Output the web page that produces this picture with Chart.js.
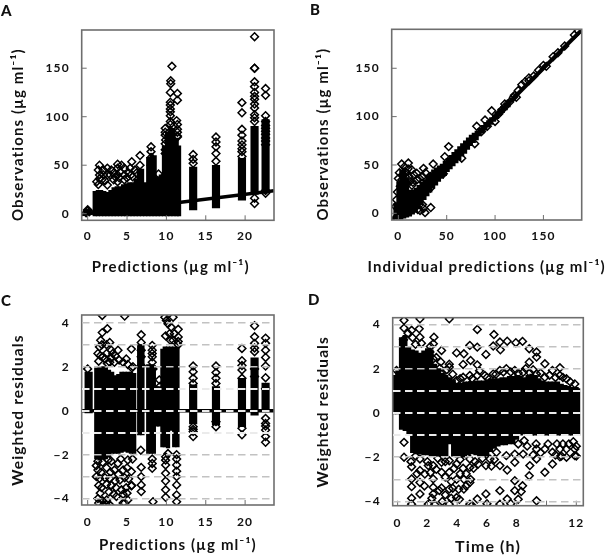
<!DOCTYPE html>
<html>
<head>
<meta charset="utf-8">
<script src="https://cdn.jsdelivr.net/npm/chart.js@4/dist/chart.umd.min.js"></script>
<style>
html,body{margin:0;padding:0;background:#fff;width:609px;height:557px;overflow:hidden}
canvas{position:absolute;filter:blur(.45px)}
.tag{position:absolute;font:900 15px Lato,sans-serif;color:#111;line-height:16px;letter-spacing:.5px}
</style>
</head>
<body>
<canvas id="pa"></canvas><canvas id="pb"></canvas><canvas id="pc"></canvas><canvas id="pd"></canvas>
<div class="tag" style="left:1px;top:2px">A</div>
<div class="tag" style="left:310px;top:1px">B</div>
<div class="tag" style="left:1px;top:292px">C</div>
<div class="tag" style="left:308px;top:291px">D</div>
<script>
// ---------- tick values ----------
const ticksPredX = [0,5,10,15,20];
const ticksObsY = [0,50,100,150];
const ticksIndX = [0,50,100,150];
const ticksTimeX = [0,2,4,6,8,10,12];
const labelsTimeX = [0,2,4,6,8,12];
const gridLevels = [-4,-3,-2,-1,0,1,2,3,4];
const labelsWresY = [-4,-2,0,2,4];

// ---------- panel A ----------
const denseAx  = [0.9,1.3,1.7,2.1,2.5,2.9,3.3,3.7,4.1,4.5,4.9,5.3,5.7,6.1,6.5,6.9,7.3,7.7,8.1,8.5,8.9,9.3,9.7,10.1,10.5,10.9,11.3,11.6];
const denseAhi = [23,24,24,23,22,24,27,28,28,30,31,32,32,36,46,46,32,58,62,60,38,40,70,84,90,88,78,70];
const denseAlo = [-2.4,-2.4,-2.4,-2.4,-2.4,-2.4,-2.4,-2.4,-2.4,-2.4,-2.4,-2.4,-2.4,-2.4,-2.4,-2.4,-2.4,-2.4,-2.4,-2.4,-2.4,-2.4,-2.4,-2.4,-2.4,-2.4,-2.4,-2.4];
const colAx  = [0,13.4,16.3,19.6,21.2,22.6];
const colAhi = [4.5,48,50,57,90,97];
const colAlo = [0.5,4,6,14,20,22];
const ptsAx = [-0.2,0,0.2,0,10.7,10.55,10.55,10.5,11.4,11.4,10.5,10.5,11.3,11.4,10.5,9.85,9.85,9.9,9.85,11.4,8.05,8.05,6.65,6.65,5.6,5.5,3.8,3.8,3.8,3.8,1.5,1.35,1.15,1.35,2.5,2.5,2.5,4.65,4.65,4.65,2,1.8,3.3,3.3,5.7,5.2,2.85,4.1,13.4,13.4,13.4,16.3,16.3,16.3,16.3,16.3,19.6,19.6,19.6,19.6,19.6,19.6,19.6,21.2,21.2,21.2,21.2,21.2,21.2,21.2,21.2,21.2,21.2,21.2,22.6,22.6,22.6,22.6,22.6,22.6,22.6,22.6,22.6,
  10.5,10.5,10.5,10.5,11.4,11.4,11.4,9.85,9.85,9.85,21.2,21.2,21.2,21.2,22.6,22.6,22.6,22.6,19.6,19.6,1.5,1.5,2,2.2,3,3.5,4,4.3,5,5.4,6,6.2,8.05,8.05,9];
const ptsAy = [1,3,2,4,152,137,134,125,124,117,115,101,96,87,112,88,81,76,66,79,69,50,60,50,53.6,40,51,47,40,33,50,45,33,30,47,40,29.5,47,40,35,40,35,35,42,38,42,40,43,61,56,52,79,74,69,62,54,114.5,104,87,81,71,64,59,182.5,150,136,131,121,109,102,95,10.5,16,150,129,122,101,91,85,78,71,21,24,
  105,108,95,92,92,84,80,84,72,62,125,118,113,99,95,88,82,75,75,67,40,36,45,34,45,38,37,50,37,47,45,42,64,58,41];
const lineAx = [-0.76,23.67];
const lineAy = [-0.76,23.67];

// ---------- panel B ----------
const denseBx  = [-3,0,3,6,9,12,15,18,21,24,27,30,33,36,39,42,45,48,51,54,57,60,63,66,69,72,75,78,81,84,87,90,93,96,99,102,105,108,111,114];
const denseBhi = [10,32,45,47,36,24,24,26,29,32,35,39,41,45,47,49,51,54,57,60,63,66,69,72,75,78,81,83,85,88,91,94,96,99,102,105,108,111,114,117];
const denseBlo = [-6,-6,-6,-5,-4,-3,-1,1,5,9,14,18,22,26,29,33,36,39,43,46,49,52,55,59,62,66,70,73,76,80,83,86,89,92,95,98,101,104,107,110];
const ptsBx = [3.4,10.3,19,26,36,52,33,33.5,26,22.4,27.6,96.5,89.6,81,127.6,135,150,182,186,46.5,13.8,33,25,19,14,7,3.4,0,79,48,65.5,107,110,119,124,115,86,100,131,145,153,172,92,104,122,
  1,5,8,11,12,15,2,-1,-2,-3,10,6,16,22,28,15,18,20,25,160,165,110,120,135,140];
const ptsBy = [51,52,41.4,46.5,51,69,26,6,5,2.8,0.7,106,96.5,90,133,140,153,184.5,188.6,41,45,38,38,34.5,29,38,34.5,36,72,58.6,57,107,110,120,127,115,84.5,95,136,148,152,173,90,103,120,
  42,40,42,38,33,32,28,22,14,7,46,48,40,36,42,20,18,4,9,162,166,113,122,137,142];
const lineBx = [-6.9,189.6];
const lineBy = [-6.9,189.6];

// ---------- panel C ----------
const denseCx  = [1.1,1.5,1.9,2.3,2.7,3.1,3.5,3.9,4.3,4.7,5.1,5.5,5.9,6.55,6.95,7.7,8.05,8.4,8.75,9.1,9.5,9.8,10.2,10.6,11,11.4];
const denseChi = [1.95,2,2,1.95,1.85,1.75,1.6,1.65,1.75,1.75,1.75,1.75,1.7,3,3,2.1,2.1,2.05,1.1,1.1,2.8,2.9,2.9,2.9,2.9,2.9];
const denseClo = [-2.2,-2.25,-2.2,-2.2,-2.1,-1.95,-1.95,-1.95,-1.9,-1.85,-1.9,-1.95,-1.95,-1.1,-1.1,-1.95,-1.95,-1.95,-0.7,-0.7,-1.65,-1.65,-1.7,-0.9,-1.65,-1.65];
const colCx  = [0.12,13.4,16.3,19.6,21.2,22.6];
const colChi = [1.75,1.17,1.1,1.47,2.4,1.25];
const colClo = [-0.1,-0.6,-0.65,-0.73,-0.2,-0.05];
const ptsCx = [2.5,1.85,1.65,1.85,4.7,6.8,6.8,8.2,8.2,8.2,9.8,10.85,10.6,9.9,11.5,11.5,10.4,10.85,11.5,5.55,3.85,3,1.4,2.5,3.4,4.5,5.1,5.75,0,1.95,1.3,2.4,3.2,6.8,6.8,8.3,9.1,9.15,13.4,13.4,13.4,13.4,13.4,13.4,13.4,16.3,16.3,16.3,16.3,16.3,19.6,19.6,19.6,19.6,19.6,19.6,21.2,21.2,21.2,21.2,21.2,22.6,22.6,22.6,22.6,22.6,22.6,22.6,22.6,22.6,22.6,1.3,2.6,3.85,5.1,1.3,2.4,3.4,4.5,5.55,1.5,2.8,4.1,1.75,3,4.3,5.55,1.3,2.4,1.95,3.65,5.1,2.8,4.5,6.8,6.8,6.8,6.8,6.75,8.2,8.2,8.3,9.9,9.9,9.9,9.9,9.9,11.3,11.3,11.3,11.3,11.3,11.3,10.2,
  1.1,1.9,3,4.2,5.7,1.7,2.9,3.9,5,1.1,2.2,3.5,4.7,5.2,1.4,2.4,3.6,4.9,5.6,1.6,2.7,3.3,4.5,5,1.4,1.9,2.3,4.7,1.5,1.8,2.4,2.8,1.6,2.2,3,3.5,2.8,4,4.9,5.6,6.8,8.2,8.2,10.2,10,11,10.5,11.5,11.3,11.3,9.9,9.9,8.2,22.6,22.6,22.6,21.2,21.2,19.6,16.3,13.4];
const ptsCy = [3.73,3.55,3.2,4.33,4.3,3.45,3.1,2.97,2.6,2.2,4.25,4.25,3.8,3.4,3.7,3.35,3.5,3.2,3,2.8,2.75,2.75,2.25,2.15,2.2,2.2,2.1,2,1.9,2.45,2.6,2.6,2.6,2.45,2.05,1.9,1.4,1.1,2.03,1.77,1.47,1.24,-0.73,-0.95,-1.18,2.03,1.73,1.47,1.24,-0.73,2.83,2.27,1.85,1.47,-0.8,-1.1,3.86,3.36,3.06,2.68,1.55,3.3,3.06,2.42,2.03,1.5,1,-0.58,-0.88,-1.18,-1.44,-2.3,-2.24,-2.4,-2.24,-2.7,-2.6,-2.7,-2.7,-2.77,-3.08,-3.08,-3.15,-3.5,-3.4,-3.6,-3.42,-4,-4.06,-4.3,-3.9,-4.06,-4.28,-4.2,-2.58,-3,-3.38,-3.68,-1.8,-2.4,-2.62,-4.14,-2.1,-2.47,-2.85,-3.6,-3.94,-2,-2.47,-3,-3.38,-3.83,-4.14,-1.95,
  -2.5,-2.35,-2.3,-2.2,-2.2,-2.8,-2.8,-2.9,-2.6,-3,-3.05,-3.2,-3.05,-3.1,-3.4,-3.35,-3.5,-3.5,-3.4,-3.75,-3.7,-3.8,-3.8,-3.75,-4.2,-4.1,-4.25,-4.2,2.9,3,3,3.1,2.5,2.35,2.4,2.5,2.2,2.3,2.35,1.95,2.75,2.45,2.75,3.95,4.1,3.5,3.2,3.15,-2.2,-2.75,-2.25,-3.2,-2.2,-0.35,-0.7,2.75,2.85,1.9,2.05,-0.5,-0.85];
const lineCx = [-0.76,23.67];
const lineCy = [0,0];

// ---------- panel D ----------
const denseDx  = [-0.25,0,0.25,0.5,0.75,1,1.25,1.5,1.75,2,2.25,2.5,2.75,3,3.25,3.5,3.75,4,4.25,4.5,4.75,5,5.25,5.5,5.75,6,6.25,6.5,6.75,7,7.25,7.5,7.75,8,8.25,8.5,8.75,9,9.25,9.5,9.75,10,10.25,10.5,10.75,11,11.25,11.5,11.75,12,12.1];
const denseDhi = [1.7,1.9,3.4,3.5,3,2.85,2.8,2.7,2.8,2.9,2.85,2.2,2,1.8,1.7,1.6,1.5,1.35,1.35,1.4,1.4,1.4,1.45,1.45,1.45,1.5,1.55,1.55,1.55,1.6,1.6,1.65,1.65,1.7,1.65,1.6,1.7,1.75,1.7,1.55,1.45,1.4,1.4,1.4,1.4,1.3,1.25,1.2,1.15,1.15,1.1];
const denseDlo = [-0.05,-0.05,-0.75,-0.8,-1,-1.8,-1.85,-1.85,-1.9,-1.9,-1.95,-1.95,-1.95,-1.95,-1.95,-1.4,-1.95,-2,-2,-2,-1.9,-1.85,-1.9,-1.95,-1.95,-1.95,-1.75,-1.6,-1.5,-1.45,-1.45,-1.4,-1.4,-1.2,-1,-0.95,-1,-1,-1,-1,-1,-1,-1,-1,-1,-1,-1,-1,-1,-1,-1];
const ptsDx = [5.35,6.47,6.87,7.36,7.94,8.39,4.85,5.35,6.42,6.9,8.84,9.33,3.96,4.45,5.93,9.33,8.84,4.9,4.4,5.35,3.47,3.47,2.95,2.44,1.5,3.47,0.43,0.43,1.45,1.5,0.94,2.4,2.4,2.17,9.89,10.4,10.9,11.34,10.9,8.43,7.87,7.3,6.87,6.42,5.86,5.35,4.85,4.4,2.84,3.96,4.85,2.95,8.88,9.33,9.89,-0.07,11.9,0.43,0.43,0.94,1.5,2.06,0.94,1.5,1.5,0.94,1.5,0.94,0.94,2.39,2.39,2.39,2.39,2.95,2.95,3.47,3.47,3.47,3.96,3.96,4.45,4.45,4.85,4.85,4.85,5.35,5.93,5.93,7.36,6.87,7.87,6.87,7.87,7.87,8.39,8.88,9.89,10.4,10.9,11.34,9.33,8.43,8.84,7.36,6.87,9.33,9.33,9.89,10.4,10.9,11.34,11.9,11.9,7.87,7.3,6.2,6.64,5.41,4.85,3.96,2.95,3.47,1.83,2.06,
  1.2,2,2.7,3.2,4.2,5.2,5.7,6.5,6.3,0.9,1.3,2.2,3.8,4.4,5.1,2.6,3.2,4.2,4.6,3.6,4.9,1.8,2.8,3.7,4.1,4.6,3.2,3.6,4.15,2.3,3,2.5,5,6,7.6,8.1,8.3,8.1,8.7,9.3,9.6,10.1,10.7,11.1,11.5,11.8,12,10.6,11,12,9.1,8.5,0.4,0.7,1,1.2,1.6,2.2,2.6,2.9,3.3,3.7,4.2,5,5.5,6,6.6,7.1,7.6,8.1,8.6,9.1,9.6,10.2,10.6,11.1,11.6];
const ptsDy = [3.77,3.54,3.2,3.24,3.17,3.23,3.05,2.97,3.02,2.85,2.9,2.75,2.71,2.67,2.64,2.52,2.29,2.37,2.19,2.17,2.2,2.07,2.82,3.42,4.25,4.25,4.18,3.83,3.8,3.42,3.73,3.12,2.44,2.75,2.22,1.92,2.04,1.54,1.69,1.84,1.92,2,1.92,1.76,1.69,1.69,1.69,1.61,2.02,1.46,1.27,1.76,1.81,1.76,1.61,1.92,1.31,-1.33,-2,-2.43,-2.08,-2.38,-2.98,-2.6,-3.14,-3.33,-3.66,-3.85,-4.12,-2.38,-2.98,-3.36,-3.66,-2.68,-3.39,-2.68,-3.44,-4.12,-3,-3.82,-3,-3.44,-2.46,-3.14,-4.12,-3.89,-3.66,-2.38,-2.58,-2.38,-2.23,-3.51,-3.06,-3.51,-3.29,-2.38,-2.68,-2.31,-1.98,-2,-2.08,-1.86,-2.84,-3.89,-4.12,-3.97,-1.63,-1.63,-1.78,-1.63,-1.63,-1.63,-1.93,-1.86,-1.93,-2.08,-1.78,-2.31,-2.08,-2.31,-2.23,-2.16,-2.76,-4.12,
  -1.95,-2.2,-2.05,-2.2,-2.1,-2.2,-2.05,-2.1,-2.4,-2.2,-2.75,-2.7,-2.5,-2.5,-2.5,-2.55,-2.9,-2.75,-2.75,-3.1,-3,-3.3,-3.5,-3.4,-3.45,-3.3,-3.7,-3.85,-3.9,-3.85,-4,-4.15,-4.18,-4.1,-4.1,-3.9,-3.55,-1.4,-1.5,-1.4,-1.8,-1.4,-1.4,-1.4,-1.4,-1.3,-1.5,-1.9,-1.95,-1.95,-1.9,-1.25,3.3,3.6,3.4,3.1,3.15,3,2.5,2.3,1.95,1.75,1.55,1.55,1.9,1.6,1.75,1.85,1.85,1.8,2,1.95,1.8,1.7,1.6,1.6,1.4];

// ---------- helpers ----------
const points = (xs, ys) => xs.map((x, i) => ({x, y: ys[i]}));
const spans = (xs, los, his) => xs.map((x, i) => ({x, y: [los[i], his[i]]}));
const fmt = v => String(v).replace('-', '\u2212');

const boxAndTicks = {
  id: 'boxAndTicks',
  beforeUpdate(chart) { chart.ctx.letterSpacing = '1.1px'; },
  beforeDraw(chart) {
    const ctx = chart.ctx;
    ctx.letterSpacing = '1.1px';
    // the long axis title is wider than its plot, as in the original: do not squeeze it
    if (!ctx.__wide) {
      const draw = ctx.fillText.bind(ctx);
      ctx.fillText = (t, x, y) => draw(t, x, y);
      ctx.__wide = true;
    }
  },
  afterDatasetsDraw(chart, args, o) {
    const {ctx, chartArea: a, scales} = chart;
    ctx.save();
    ctx.strokeStyle = '#6e6e6e';
    ctx.lineWidth = 1;
    const len = 5;
    ctx.beginPath();
    scales.x.ticks.forEach(t => {
      const p = scales.x.getPixelForValue(t.value);
      ctx.moveTo(p, a.bottom); ctx.lineTo(p, a.bottom - len);
    });
    if (!o.gridY) scales.y.ticks.forEach(t => {
      const p = scales.y.getPixelForValue(t.value);
      ctx.moveTo(a.left, p); ctx.lineTo(a.left + len, p);
    });
    ctx.stroke();
    ctx.lineWidth = 1.6;
    ctx.strokeRect(a.left, a.top, a.right - a.left, a.bottom - a.top);
    ctx.restore();
  }
};

function panel(cfg) {
  const el = document.getElementById(cfg.id);
  el.style.left = cfg.left + 'px';
  el.style.top = cfg.top + 'px';
  el.style.width = cfg.w + 'px';
  el.style.height = cfg.h + 'px';
  el.width = cfg.w; el.height = cfg.h;
  const datasets = [];
  if (cfg.dense) datasets.push({type:'bar', data:cfg.dense, backgroundColor:'#000', borderWidth:0, grouped:false, barThickness:cfg.denseWidth, order:4});
  if (cfg.cols) datasets.push({type:'bar', data:cfg.cols, backgroundColor:'#000', borderWidth:0, grouped:false, barThickness:7.5, order:4});
  if (cfg.line) datasets.push({type:'scatter', data:cfg.line, showLine:true, borderColor:'#000', borderWidth:cfg.lineWidth, pointRadius:0, order:2});
  datasets.push({type:'scatter', data:cfg.pts, pointStyle:'rectRot', pointRadius:3.9, pointBorderWidth:1.5, pointBackgroundColor:'rgba(0,0,0,0)', pointBorderColor:'#000', order:3});
  const font = {family:'Lato', weight:'bold', size:12};
  const gridY = !!cfg.gridY;
  new Chart(el, {
    type: 'bar',
    data: {datasets},
    plugins: [boxAndTicks],
    options: {
      responsive:false, animation:false, events:[],
      layout:{autoPadding:false, padding:{top:cfg.area.top, right:cfg.w - cfg.area.right, left:0, bottom:0}},
      plugins:{legend:{display:false}, tooltip:{enabled:false}, title:{display:false}, boxAndTicks:{gridY}},
      scales:{
        x:{type:'linear', min:cfg.xr[0], max:cfg.xr[1], offset:false, stacked:false,
           grid:{display:false, drawTicks:false, offset:false}, border:{display:false},
           afterFit:s=>{s.height = cfg.h - cfg.area.bottom;},
           afterBuildTicks:s=>{s.ticks = cfg.xTicks.map(value=>({value}));},
           ticks:{autoSkip:false, maxRotation:0, padding:cfg.xPad, color:'#111', font,
                  callback:v=>cfg.xLabels.includes(v) ? fmt(v) : ''},
           title:{display:true, text:cfg.xTitle, color:'#111', font:{family:'Lato', weight:'bold', size:cfg.xTitleSize}, padding:{top:0, bottom:cfg.xTitlePad}}},
        y:{type:'linear', min:cfg.yr[0], max:cfg.yr[1], beginAtZero:false,
           grid: gridY ? {display:true, z:1, drawTicks:false, drawOnChartArea:true,
                          color:c=>Math.abs(c.tick.value)<=1 ? '#ebebeb' : '#c2c2c2',
                          lineWidth:c=>Math.abs(c.tick.value)<=1 ? 2 : 1.5}
                       : {display:false, drawTicks:false},
           border:{display:false, dash:[7.5,4.5]},
           afterFit:s=>{s.width = cfg.area.left;},
           afterBuildTicks:s=>{s.ticks = cfg.yTicks.map(value=>({value}));},
           ticks:{autoSkip:false, padding:cfg.yPad, color:'#111', font,
                  callback:v=>cfg.yLabels.includes(v) ? fmt(v) : ''},
           title:{display:true, text:cfg.yTitle, color:'#111', font:{family:'Lato', weight:'bold', size:cfg.yTitleSize}, padding:{top:cfg.yTitlePad, bottom:0}}}
      }
    }
  });
}

panel({id:'pa', left:0, top:0, w:305, h:280, area:{left:81.7,right:274,top:30,bottom:220.3},
  xr:[-0.76,23.67], yr:[-6.8,189.4], xTicks:ticksPredX, xLabels:ticksPredX, yTicks:ticksObsY, yLabels:ticksObsY,
  xPad:9, yPad:12, xTitlePad:4, yTitlePad:9, xTitleSize:15, yTitleSize:15, lineWidth:3.5, denseWidth:3.7,
  xTitle:'Predictions (\u00b5g ml\u207b\u00b9)   ', yTitle:'Observations (\u00b5g ml\u207b\u00b9)    ',
  dense:spans(denseAx,denseAlo,denseAhi), cols:spans(colAx,colAlo,colAhi), pts:points(ptsAx,ptsAy), line:points(lineAx,lineAy)});

panel({id:'pb', left:305, top:0, w:304, h:280, area:{left:86.7,right:276.7,top:29.3,bottom:220},
  xr:[-6.9,189.6], yr:[-6.9,190.3], xTicks:ticksIndX, xLabels:ticksIndX, yTicks:ticksObsY, yLabels:ticksObsY,
  xPad:9, yPad:12, xTitlePad:4, yTitlePad:9, xTitleSize:15, yTitleSize:15, lineWidth:4, denseWidth:3.5,
  xTitle:'Individual predictions (\u00b5g ml\u207b\u00b9)', yTitle:'Observations (\u00b5g ml\u207b\u00b9)    ',
  dense:spans(denseBx,denseBlo,denseBhi), pts:points(ptsBx,ptsBy), line:points(lineBx,lineBy)});

panel({id:'pc', left:0, top:280, w:305, h:277, area:{left:81.7,right:274,top:35,bottom:225},
  xr:[-0.76,23.67], yr:[-4.29,4.35], gridY:true, xTicks:ticksPredX, xLabels:ticksPredX, yTicks:gridLevels, yLabels:labelsWresY,
  xPad:10, yPad:12, xTitlePad:3, yTitlePad:9, xTitleSize:15, yTitleSize:15.5, lineWidth:3.5, denseWidth:3.7,
  xTitle:'Predictions (\u00b5g ml\u207b\u00b9)', yTitle:'Weighted residuals',
  dense:spans(denseCx,denseClo,denseChi), cols:spans(colCx,colClo,colChi), pts:points(ptsCx,ptsCy), line:points(lineCx,lineCy)});

panel({id:'pd', left:305, top:280, w:304, h:277, area:{left:87.7,right:278.3,top:37.7,bottom:225.7},
  xr:[-0.33,12.47], yr:[-4.19,4.3], gridY:true, xTicks:ticksTimeX, xLabels:labelsTimeX, yTicks:gridLevels, yLabels:labelsWresY,
  xPad:10, yPad:12, xTitlePad:1, yTitlePad:9, xTitleSize:16, yTitleSize:15.5, denseWidth:4.2,
  xTitle:'Time (h)', yTitle:'Weighted residuals',
  dense:spans(denseDx,denseDlo,denseDhi), pts:points(ptsDx,ptsDy)});
</script>
</body>
</html>
